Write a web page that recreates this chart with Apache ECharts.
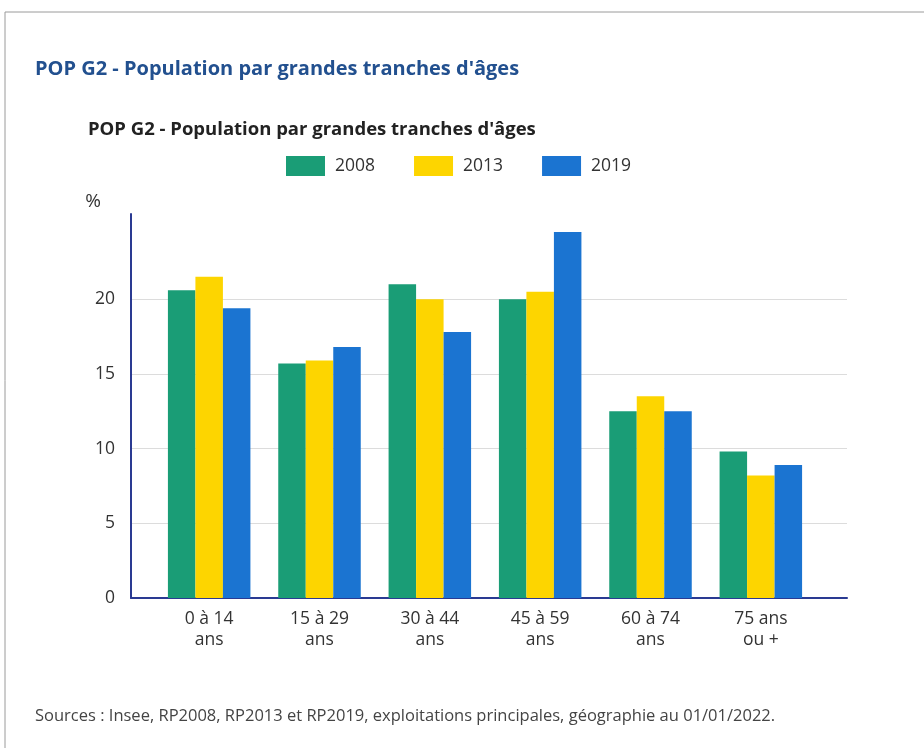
<!DOCTYPE html>
<html>
<head>
<meta charset="utf-8">
<script src="https://cdn.jsdelivr.net/npm/echarts@6/dist/echarts.min.js"></script>
<style>
  html, body { margin: 0; padding: 0; background: #fff; }
  #main { width: 924px; height: 748px; }
</style>
</head>
<body>
<div id="main"></div>
<script>
// tranches d'âges
var categories = ['0 à 14\nans', '15 à 29\nans', '30 à 44\nans', '45 à 59\nans', '60 à 74\nans', '75 ans\nou +'];
var years = ['2008', '2013', '2019'];
var v2008 = [20.6, 15.7, 21.0, 20.0, 12.5, 9.8];
var v2013 = [21.5, 15.9, 20.0, 20.5, 13.5, 8.2];
var v2019 = [19.4, 16.8, 17.8, 24.5, 12.5, 8.9];
var yTicks = [0, 5, 10, 15, 20];

var colors = ['#1a9d76', '#fdd500', '#1b74d1'];
var axisBlue = '#2a3a92';
var yMax = 25.7;
var font = '"Open Sans", "Noto Sans", sans-serif';

var chart = echarts.init(document.getElementById('main'));

function barSerie(name, data, color) {
  return {
    name: name,
    type: 'bar',
    xAxisIndex: 1,
    yAxisIndex: 1,
    data: data,
    barWidth: 27.5,
    barGap: '0%',
    itemStyle: { color: color },
    emphasis: { disabled: true }
  };
}

var option = {
  animation: false,
  backgroundColor: '#fff',
  textStyle: { fontFamily: font },
  graphic: [{
    type: 'rect',
    shape: { x: 5, y: 12, width: 1000, height: 1000 },
    style: { fill: 'none', stroke: '#9a9a9a', lineWidth: 1 },
    silent: true
  }],
  title: [{
    text: "POP G2 - Population par grandes tranches d'âges",
    left: 30, top: 54,
    textStyle: { color: '#22508f', fontSize: 20, fontWeight: 'bold', fontFamily: font }
  }, {
    text: "POP G2 - Population par grandes tranches d'âges",
    left: 83, top: 115,
    textStyle: { color: '#222', fontSize: 18.5, fontWeight: 'bold', fontFamily: font }
  }, {
    text: 'Sources : Insee, RP2008, RP2013 et RP2019, exploitations principales, géographie au 01/01/2022.',
    left: 30, top: 703,
    textStyle: { color: '#444', fontSize: 16.5, fontWeight: 'normal', fontFamily: font }
  }],
  legend: {
    data: years,
    top: 151,
    left: 281,
    itemWidth: 39,
    itemHeight: 20,
    itemGap: 39,
    icon: 'rect',
    selectedMode: false,
    textStyle: { color: '#333', fontSize: 17.5, fontFamily: font, padding: [0, 0, 0, 5] }
  },
  grid: [
    { left: 131, right: 77, top: 214, bottom: 150 },
    { left: 154, right: 108, top: 214, bottom: 150 }
  ],
  xAxis: [{
    gridIndex: 0,
    type: 'value',
    min: 0, max: 1,
    axisLine: { show: true, lineStyle: { color: axisBlue, width: 2 } },
    axisTick: { show: false },
    axisLabel: { show: false },
    splitLine: { show: false }
  }, {
    gridIndex: 1,
    type: 'category',
    data: categories,
    axisLine: { show: false },
    axisTick: { show: false },
    axisLabel: { color: '#333', fontSize: 17.5, lineHeight: 21, margin: 11, fontFamily: font }
  }],
  yAxis: [{
    gridIndex: 0,
    type: 'value',
    min: 0, max: yMax, interval: 5,
    name: '%',
    nameLocation: 'end',
    nameGap: 3,
    nameTextStyle: { color: '#333', fontSize: 19, align: 'right', padding: [0, 30, 0, 0], fontFamily: font },
    axisLine: { show: true, lineStyle: { color: axisBlue, width: 2 } },
    axisTick: { show: false },
    axisLabel: {
      color: '#333', fontSize: 17.5, margin: 16, fontFamily: font,
      formatter: function (v) { return yTicks.indexOf(v) >= 0 ? String(v) : ''; }
    },
    splitLine: {
      show: true,
      lineStyle: { color: ['#dcdcdc', '#dcdcdc', '#dcdcdc', '#dcdcdc', '#dcdcdc', 'rgba(0,0,0,0)', 'rgba(0,0,0,0)'], width: 1 }
    }
  }, {
    gridIndex: 1,
    type: 'value',
    min: 0, max: yMax,
    show: false
  }],
  series: [
    barSerie(years[0], v2008, colors[0]),
    barSerie(years[1], v2013, colors[1]),
    barSerie(years[2], v2019, colors[2])
  ]
};

chart.setOption(option);
</script>
</body>
</html>
